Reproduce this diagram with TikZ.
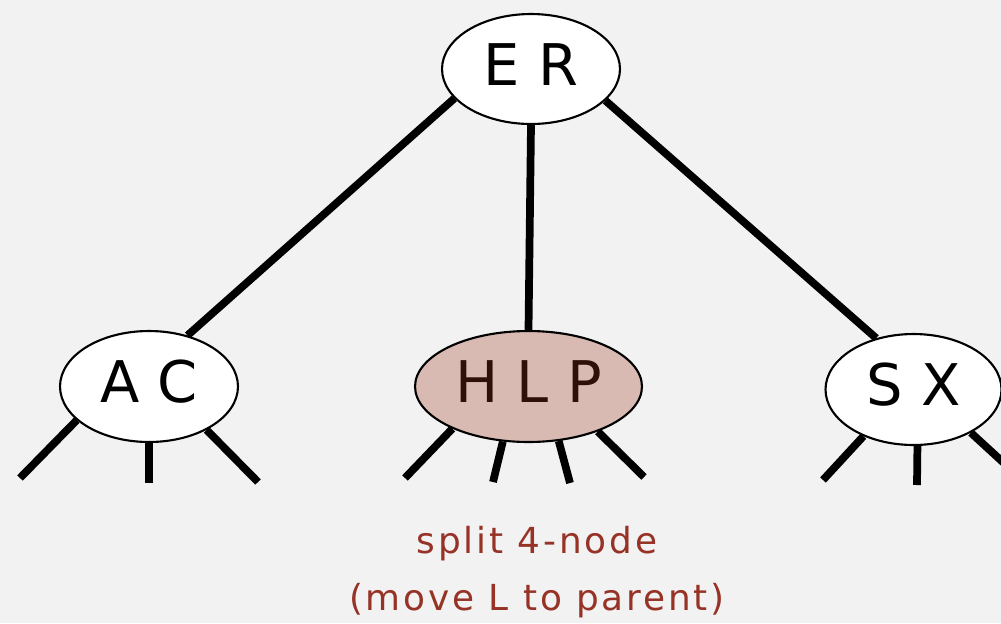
\documentclass[tikz,border=0pt]{standalone}
\usepackage{fontspec}
\setmainfont{DejaVu Sans}
\newfontfamily\capfont[LetterSpace=8]{DejaVu Sans}
\usetikzlibrary{shapes.geometric}
\pgfdeclarelayer{background}
\pgfsetlayers{background,main}
\definecolor{bg}{HTML}{F2F2F2}
\definecolor{capred}{HTML}{963226}
\definecolor{hlpfill}{HTML}{D9BAB3}
\definecolor{hlptext}{HTML}{2E100A}
\begin{document}
\begin{tikzpicture}[x=0.02cm,y=-0.02cm,
  knode/.style={ellipse, draw, line width=1.2pt, fill=white, inner sep=0pt,
    font=\fontsize{32.7}{36}\selectfont, text height=23.9pt, text depth=5.6pt},
  link/.style={line width=4.4pt},
  captext/.style={anchor=base, inner sep=0pt, text=capred, font=\capfont\fontsize{20.4}{32}\selectfont}]
\useasboundingbox (0,0) rectangle (1001,623);

\node[knode, minimum width=3.56cm, minimum height=2.2cm] (ER) at (531,69) {E R};
\node[knode, minimum width=3.56cm, minimum height=2.22cm] (AC) at (149,386.5) {A C};
\node[knode, minimum width=4.54cm, minimum height=2.22cm, fill=hlpfill, text=hlptext] (HLP) at (528.5,386.5) {H L P};
\node[knode, minimum width=3.52cm, minimum height=2.22cm] (SX) at (913.5,389.5) {S X};

\coordinate (ac1) at (20,478);
\coordinate (ac2) at (149,483);
\coordinate (ac3) at (258,482);
\coordinate (h1) at (405,478);
\coordinate (h2) at (493,482);
\coordinate (h3) at (570,483);
\coordinate (h4) at (644,477);
\coordinate (sx1) at (823,480);
\coordinate (sx2) at (917,485);
\coordinate (sx3) at (1030,487);

\begin{pgfonlayer}{background}
\fill[bg] (0,0) rectangle (1001,623);
\begin{scope}
\clip (0,0) rectangle (1001,623);
\draw[link] (ER.201) -- (AC.53);
\draw[link] (ER.south) -- (HLP.north);
\draw[link] (ER.337) -- (SX.126);
\draw[link] (AC.205) -- (ac1);
\draw[link] (AC.south) -- (ac2);
\draw[link] (AC.323) -- (ac3);
\draw[link] (HLP.209) -- (h1);
\draw[link] (HLP.245) -- (h2);
\draw[link] (HLP.299) -- (h3);
\draw[link] (HLP.327) -- (h4);
\draw[link] (SX.223) -- (sx1);
\draw[link] (SX.274) -- (sx2);
\draw[link] (SX.323) -- (sx3);
\end{scope}
\end{pgfonlayer}

\node[captext] (cap1) at (537,553) {split 4-node};
\node[captext] (cap2) at (537,610) {(move L to parent)};
\end{tikzpicture}
\end{document}
